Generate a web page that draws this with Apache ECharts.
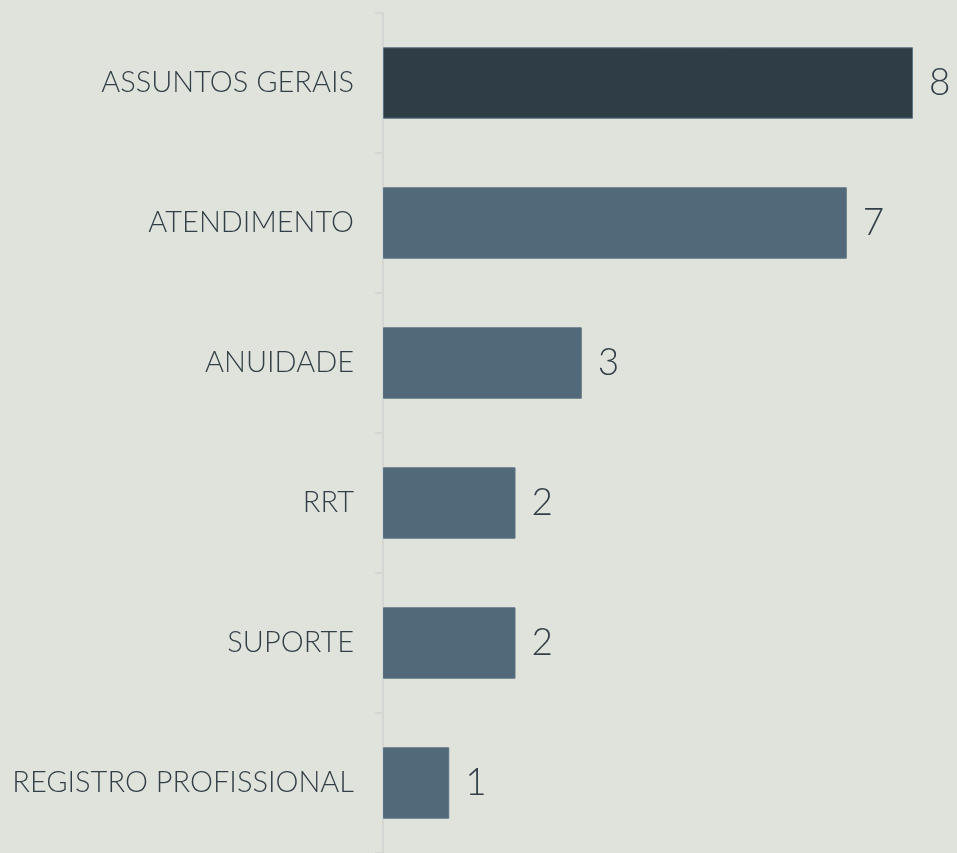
<!DOCTYPE html>
<html lang="pt">
<head>
    <meta charset="UTF-8">
    <title>Assuntos</title>
    <script src="https://cdn.jsdelivr.net/npm/echarts@6/dist/echarts.min.js"></script>
    <style>
        * { margin: 0; padding: 0; }
        body { background: #dfe3dc; }
        #main { width: 957px; height: 853px; }
    </style>
</head>
<body>
    <div id="main"></div>
    <script>
        let categories = ['ASSUNTOS GERAIS', 'ATENDIMENTO', 'ANUIDADE', 'RRT', 'SUPORTE', 'REGISTRO PROFISSIONAL'];
        let values = [8, 7, 3, 2, 2, 1];
        let highlight = 0; // primeiro item em cor escura

        let myChart = echarts.init(document.getElementById('main'));

        let option = {
            backgroundColor: '#dfe3dc',
            animation: false,
            textStyle: { fontFamily: 'Lato', fontWeight: 300 },
            grid: { left: 383, right: 44, top: 13, bottom: 0 },
            xAxis: {
                type: 'value',
                min: 0,
                max: 8,
                show: false
            },
            yAxis: {
                type: 'category',
                inverse: true,
                data: categories,
                axisLine: { lineStyle: { color: '#d3d6d3', width: 2 } },
                axisTick: { show: true, length: 8, lineStyle: { color: '#d3d6d3', width: 2 } },
                axisLabel: { color: '#333f48', fontSize: 29, fontWeight: 300, margin: 29 }
            },
            series: [{
                type: 'bar',
                barWidth: '51%',
                data: values.map((v, i) => ({
                    value: v,
                    itemStyle: { color: i === highlight ? '#2f3d46' : '#52697a' }
                })),
                itemStyle: { borderColor: '#5b7282', borderWidth: 1 },
                label: {
                    show: true,
                    position: 'right',
                    distance: 16,
                    color: '#333f48',
                    fontSize: 37,
                    fontWeight: 300
                }
            }]
        };

        myChart.setOption(option);
    </script>
</body>
</html>
